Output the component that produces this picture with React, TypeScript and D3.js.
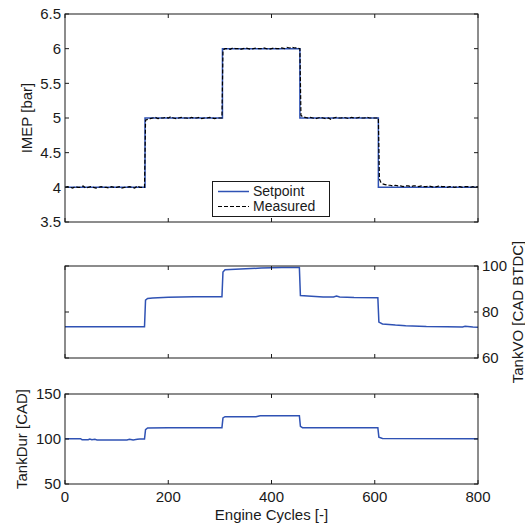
import * as d3 from 'd3'

// axis ticks
const cycleTicks = [0, 200, 400, 600, 800]
const imepTicks = [3.5, 4, 4.5, 5, 5.5, 6, 6.5]
const tankVoTicks = [60, 80, 100]
const tankDurTicks = [50, 100, 150]

// IMEP setpoint (step profile)
const setpointCycles = [0, 155, 155, 305, 305, 455, 455, 607, 607, 800]
const setpointImep = [4, 4, 5, 5, 6, 6, 5, 5, 4, 4]

// IMEP measured
const measuredCycles = [
  0, 5, 10, 15, 20, 25, 30, 35, 40, 45, 50, 55, 60, 65, 70, 75, 80, 85, 90, 95, 100, 105, 110, 115, 120, 125, 130, 135, 140, 145, 150, 154,
  156, 160, 165, 170, 175, 180, 185, 190, 195, 200, 205, 210, 215, 220, 225, 230, 235, 240, 245, 250, 255, 260, 265, 270, 275, 280, 285, 290, 295, 300, 304,
  306, 310, 315, 320, 325, 330, 335, 340, 345, 350, 355, 360, 365, 370, 375, 380, 385, 390, 395, 400, 405, 410, 415, 420, 425, 430, 435, 440, 445, 450, 455,
  457, 460, 465, 470, 475, 480, 485, 490, 495, 500, 505, 510, 515, 520, 525, 530, 535, 540, 545, 550, 555, 560, 565, 570, 575, 580, 585, 590, 595, 600, 607,
  609, 612, 615, 620, 625, 630, 635, 640, 645, 650, 655, 660, 665, 670, 675, 680, 685, 690, 695, 700, 705, 710, 715, 720, 725, 730, 735, 740, 745, 750, 755, 760, 765, 770, 775, 780, 785, 790, 795, 800,
]
const measuredImep = [
  4.0, 4.01, 4.0, 3.99, 4.01, 4.0, 4.0, 4.02, 3.99, 4.0, 4.01, 4.0, 3.99, 4.0, 4.01, 4.0, 4.0, 3.99, 4.01, 4.0, 4.0, 4.01, 3.99, 4.0, 4.0, 4.01, 4.0, 3.99, 4.02, 4.0, 4.0, 4.0,
  4.97, 4.98, 4.99, 5.0, 5.01, 4.99, 5.0, 5.0, 5.01, 5.0, 5.02, 5.0, 4.99, 5.0, 5.01, 5.0, 5.0, 4.99, 5.01, 5.0, 5.0, 5.01, 4.99, 5.0, 5.0, 5.01, 5.0, 4.99, 5.0, 5.0, 5.0,
  5.98, 6.0, 6.0, 5.99, 6.01, 6.0, 6.0, 5.99, 6.0, 6.01, 6.0, 5.99, 6.0, 6.01, 6.0, 6.0, 6.01, 6.0, 5.99, 6.0, 6.01, 6.0, 6.0, 6.01, 6.0, 6.02, 6.01, 6.02, 6.01, 6.01, 6.0,
  5.04, 5.02, 5.01, 5.0, 5.01, 5.0, 4.99, 5.0, 5.01, 5.0, 4.99, 5.0, 4.98, 5.0, 5.01, 5.0, 5.0, 5.01, 5.0, 4.99, 5.01, 5.0, 5.0, 5.01, 5.0, 5.0, 5.01, 5.0, 5.0, 5.0, 5.0,
  4.12, 4.07, 4.05, 4.04, 4.03, 4.03, 4.02, 4.03, 4.02, 4.02, 4.01, 4.02, 4.02, 4.01, 4.02, 4.02, 4.01, 4.02, 4.01, 4.01, 4.02, 4.01, 4.0, 4.01, 4.02, 4.01, 4.01, 4.0, 4.01, 4.01, 4.0, 4.01, 4.01, 4.0, 4.01, 4.01, 4.0, 4.01, 4.0, 4.01,
]

// TankVO [CAD BTDC]
const tankVoCycles = [0, 154, 156, 160, 170, 200, 250, 304, 306, 310, 330, 350, 380, 420, 454, 456, 470, 500, 520, 526, 532, 560, 606, 608, 615, 640, 660, 700, 740, 770, 775, 790, 800]
const tankVoValues = [73.6, 73.6, 85.2, 85.9, 86.1, 86.4, 86.6, 86.6, 97.4, 98.4, 98.6, 98.8, 99.1, 99.3, 99.3, 87.2, 87.0, 86.5, 86.5, 86.9, 86.5, 86.3, 86.2, 75.6, 74.8, 74.3, 74.0, 73.7, 73.6, 73.5, 73.8, 73.5, 73.4]

// TankDur [CAD]
const tankDurCycles = [0, 30, 33, 45, 48, 52, 58, 62, 120, 125, 132, 140, 145, 154, 156, 160, 200, 304, 306, 310, 370, 378, 454, 456, 460, 606, 608, 615, 800]
const tankDurValues = [100.3, 100.3, 99.2, 99.2, 100, 99.2, 99.6, 99, 99, 99.7, 99, 99.6, 100, 100, 110.5, 112.2, 112.6, 112.6, 123.5, 124.8, 124.8, 125.8, 125.8, 114, 112.6, 112.6, 102, 100.5, 100.2]

const W = 525
const H = 523
const left = 65
const right = 478
const font = "'Liberation Sans', Arial, sans-serif"
const fs = 15
const ink = '#1a1a1a'
const blue = '#2f52b4'
const tickLen = 4

const x = d3.scaleLinear().domain([0, 800]).range([left, right])

type PanelProps = {
  top: number
  bottom: number
  domain: [number, number]
  ticks: number[]
  labelSide: 'left' | 'right'
  showX: boolean
  title: string
  titleX: number
  children: (y: d3.ScaleLinear<number, number>) => any
}

function Panel({ top, bottom, domain, ticks, labelSide, showX, title, titleX, children }: PanelProps) {
  const y = d3.scaleLinear().domain(domain).range([bottom, top])
  const midY = (top + bottom) / 2
  return (
    <g>
      {children(y)}
      <rect x={left} y={top} width={right - left} height={bottom - top} fill="none" stroke={ink} strokeWidth={1} />
      {cycleTicks.map((t) => (
        <g key={'x' + t}>
          <line x1={x(t)} x2={x(t)} y1={bottom} y2={bottom - tickLen} stroke={ink} />
          <line x1={x(t)} x2={x(t)} y1={top} y2={top + tickLen} stroke={ink} />
          {showX && (
            <text x={x(t)} y={bottom + 13} dy="0.35em" textAnchor="middle" fontSize={fs} fontFamily={font} fill={ink}>
              {t}
            </text>
          )}
        </g>
      ))}
      {ticks.map((t) => (
        <g key={'y' + t}>
          <line x1={left} x2={left + tickLen} y1={y(t)} y2={y(t)} stroke={ink} />
          <line x1={right} x2={right - tickLen} y1={y(t)} y2={y(t)} stroke={ink} />
          <text
            x={labelSide === 'left' ? left - 4 : right + 4}
            y={y(t)}
            dy="0.35em"
            textAnchor={labelSide === 'left' ? 'end' : 'start'}
            fontSize={fs}
            fontFamily={font}
            fill={ink}
          >
            {t}
          </text>
        </g>
      ))}
      <text
        transform={`translate(${titleX},${midY}) rotate(-90)`}
        textAnchor="middle"
        dy="0.35em"
        fontSize={fs}
        fontFamily={font}
        fill={ink}
      >
        {title}
      </text>
    </g>
  )
}

function pathOf(xs: number[], ys: number[], y: d3.ScaleLinear<number, number>) {
  const line = d3
    .line<number>()
    .x((d) => x(xs[d]))
    .y((d) => y(ys[d]))
  return line(d3.range(xs.length)) || ''
}

export default function App() {
  return (
    <svg width={W} height={H} style={{ position: 'absolute', left: 0, top: 0, background: '#fff' }}>
      <Panel top={14} bottom={222} domain={[3.5, 6.5]} ticks={imepTicks} labelSide="left" showX={false} title="IMEP [bar]" titleX={27}>
        {(y) => (
          <g>
            <path d={pathOf(setpointCycles, setpointImep, y)} fill="none" stroke={blue} strokeWidth={1.5} />
            <path d={pathOf(measuredCycles, measuredImep, y)} fill="none" stroke="#000" strokeWidth={1.2} strokeDasharray="4,2" />
          </g>
        )}
      </Panel>
      <Panel top={266} bottom={358} domain={[60, 100]} ticks={tankVoTicks} labelSide="right" showX={false} title="TankVO [CAD BTDC]" titleX={518}>
        {(y) => <path d={pathOf(tankVoCycles, tankVoValues, y)} fill="none" stroke={blue} strokeWidth={1.5} />}
      </Panel>
      <Panel top={394} bottom={484} domain={[50, 150]} ticks={tankDurTicks} labelSide="left" showX={true} title="TankDur [CAD]" titleX={22}>
        {(y) => <path d={pathOf(tankDurCycles, tankDurValues, y)} fill="none" stroke={blue} strokeWidth={1.5} />}
      </Panel>
      <g>
        <rect x={212.5} y={181.5} width={117} height={35} fill="#fff" stroke={ink} strokeWidth={1} />
        <line x1={218} x2={249} y1={191.5} y2={191.5} stroke={blue} strokeWidth={1.5} />
        <text x={253} y={191.5} dy="0.35em" fontSize={14} fontFamily={font} fill={ink}>
          Setpoint
        </text>
        <line x1={218} x2={249} y1={206.5} y2={206.5} stroke="#000" strokeWidth={1.2} strokeDasharray="4,2" />
        <text x={253} y={206.5} dy="0.35em" fontSize={14} fontFamily={font} fill={ink}>
          Measured
        </text>
      </g>
      <text x={x(400)} y={515} dy="0.35em" textAnchor="middle" fontSize={fs} fontFamily={font} fill={ink}>
        Engine Cycles [-]
      </text>
    </svg>
  )
}
